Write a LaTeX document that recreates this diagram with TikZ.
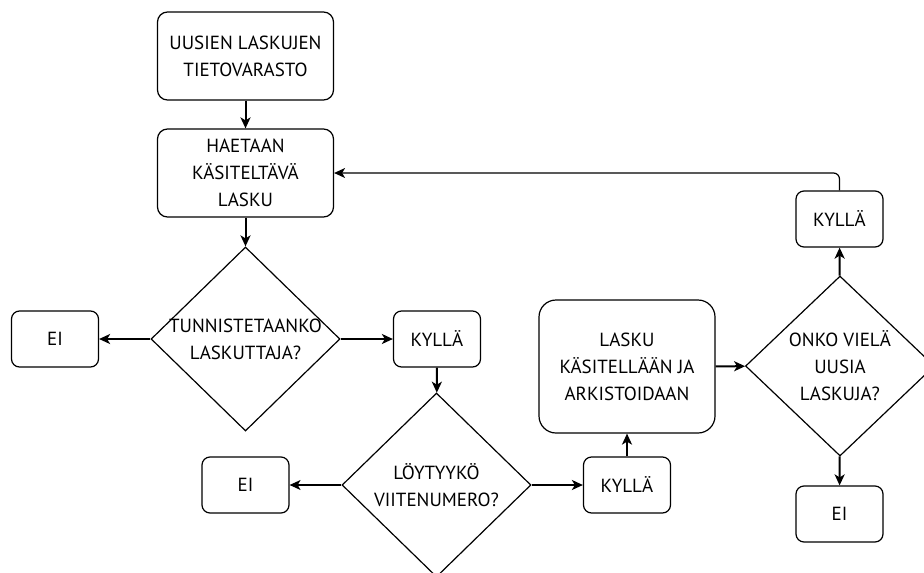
\documentclass[tikz,border=0pt]{standalone}
\usepackage{fontspec}
\setmainfont{PT Sans}
\usepackage{tikz}
\usetikzlibrary{shapes.geometric,arrows.meta}

\tikzset{
  box/.style={draw, line width=1.2pt, rounded corners=10pt, align=center,
    minimum width=176pt, minimum height=88pt, inner sep=0pt},
  answer/.style={draw, line width=1.2pt, rounded corners=8pt, align=center,
    minimum width=87pt, minimum height=56pt, inner sep=0pt},
  decision/.style={draw, diamond, line width=1.2pt, align=center,
    minimum width=189pt, minimum height=184pt, inner sep=-20pt},
  flow/.style={line width=2pt, -{Stealth[length=11pt,width=10pt,inset=3pt]}},
  thinflow/.style={line width=1.2pt, -{Stealth[length=11pt,width=10pt,inset=3pt]}}
}

\begin{document}
\begin{tikzpicture}[x=1pt, y=-1pt, font=\fontsize{19}{27}\selectfont]
        \useasboundingbox (0,0) rectangle (924,573);

        % Boxes
        \node[box] (store) at (245.5,56) {UUSIEN LASKUJEN\\TIETOVARASTO};
        \node[box] (fetch) at (245.5,173) {HAETAAN\\KÄSITELTÄVÄ\\LASKU};
        \node[box, minimum height=133pt, rounded corners=17pt] (process) at (627,366.5)
            {LASKU\\KÄSITELLÄÄN JA\\ARKISTOIDAAN};

        % Questions
        \node[decision] (sender) at (245.5,339) {TUNNISTETAANKO\\LASKUTTAJA?};
        \node[decision] (refnum) at (436.5,485) {LÖYTYYKÖ\\VIITENUMERO?};
        \node[decision, minimum height=180pt] (more) at (840,366) {ONKO VIELÄ\\UUSIA\\LASKUJA?};

        % Answers
        \foreach \n/\x/\y/\t in {noA/55/339/EI, yesA/437/339/KYLLÄ,
                                 noB/245.5/485/EI, yesB/627/485/KYLLÄ,
                                 yesC/839.5/219/KYLLÄ, noC/839.5/514/EI} {
            \node[answer] (\n) at (\x,\y) {\t};
        }

        % Arrows
        \draw[flow] (store) -- (fetch);
        \draw[flow] (fetch) -- (sender);
        \draw[flow] (sender) -- (noA);
        \draw[flow] (sender) -- (yesA);
        \draw[flow] (yesA) -- (refnum);
        \draw[thinflow] (refnum) -- (noB);
        \draw[flow] (refnum) -- (yesB);
        \draw[flow] (yesB) -- (process);
        \draw[flow] (process) -- (more);
        \draw[flow] (more) -- (yesC);
        \draw[flow] (more) -- (noC);
        \draw[thinflow, rounded corners=6pt] (yesC.north) |- (fetch.east);
\end{tikzpicture}
\end{document}
